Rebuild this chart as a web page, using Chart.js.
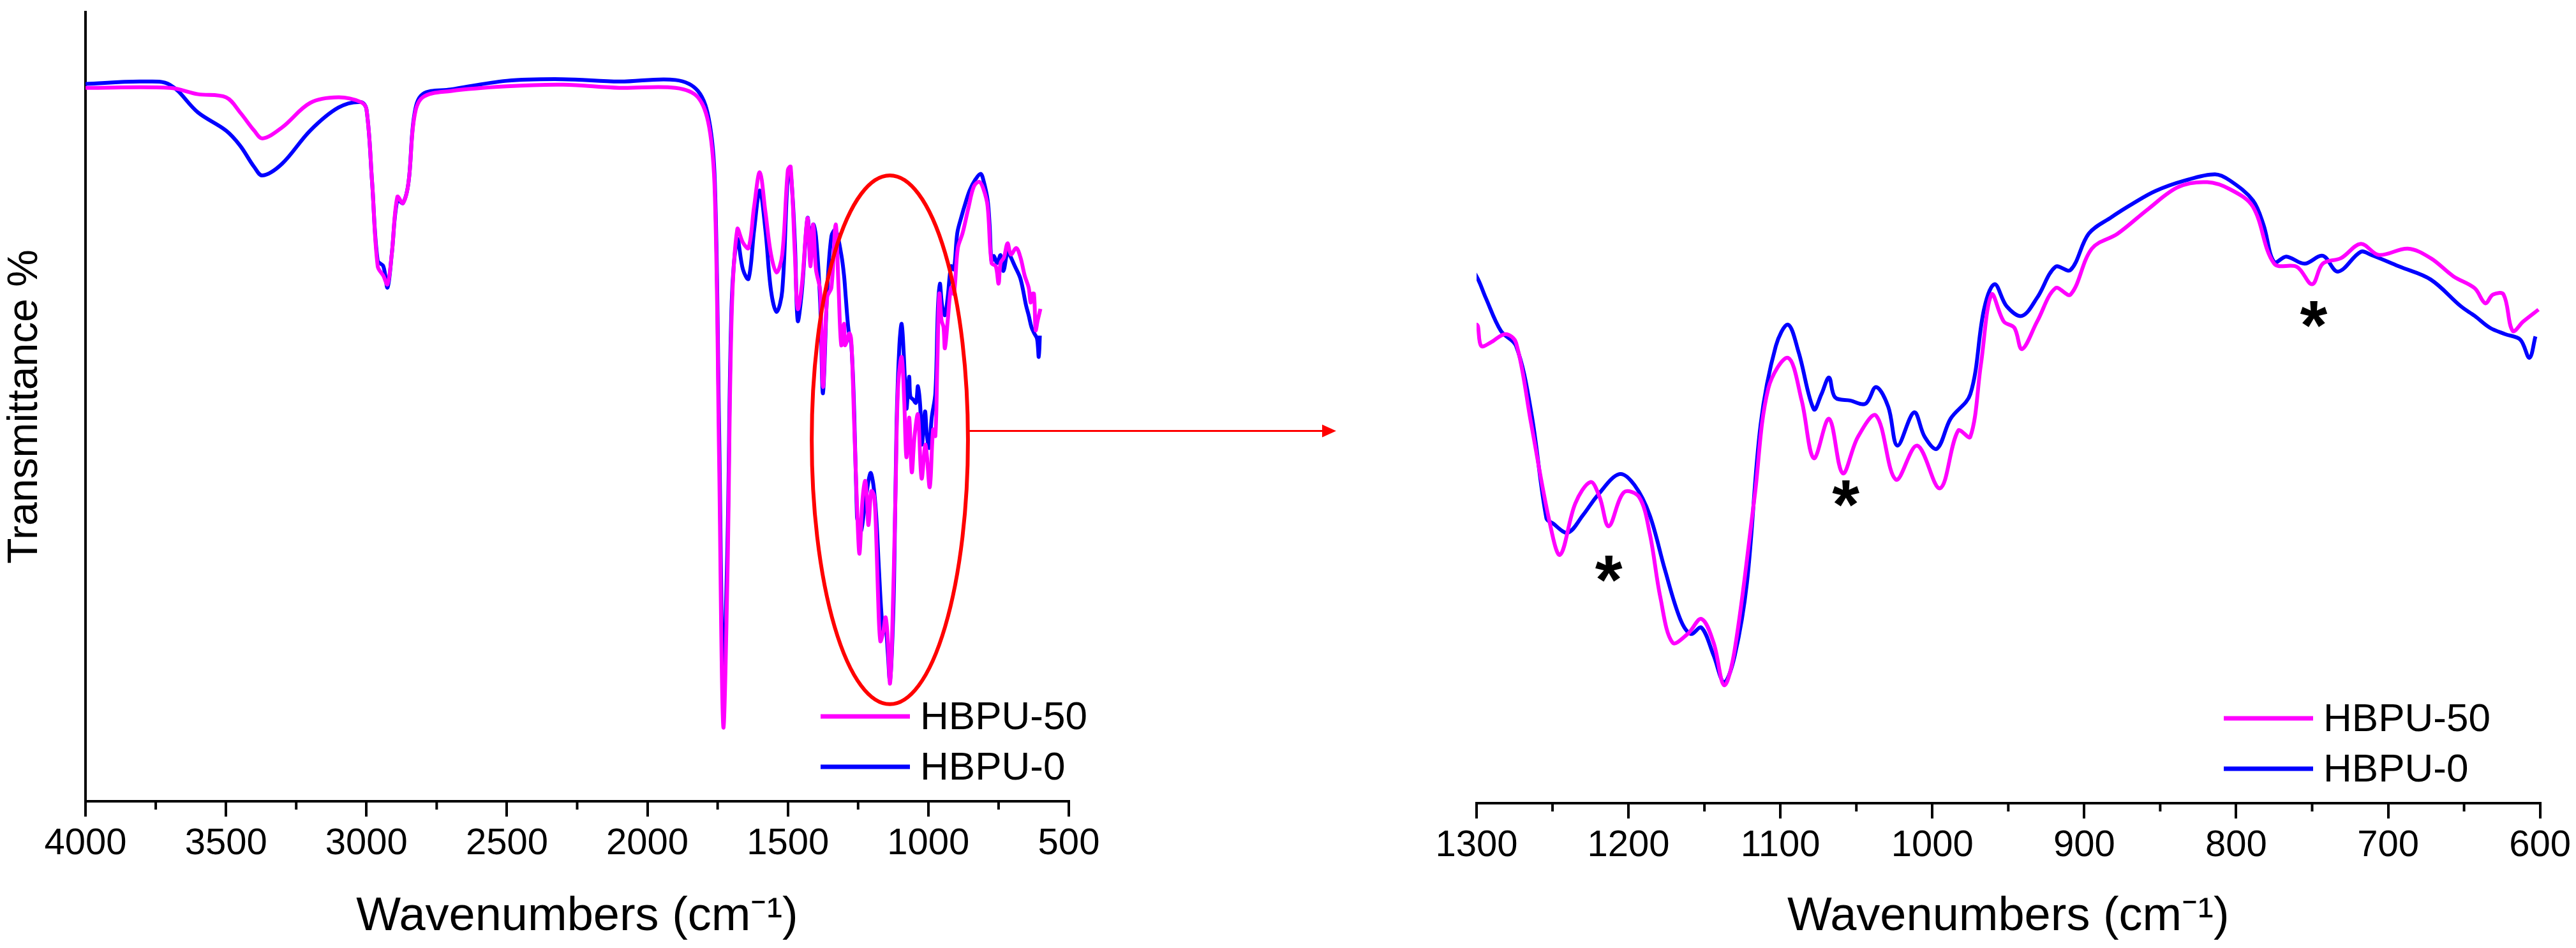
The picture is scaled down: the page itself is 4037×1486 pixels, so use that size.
<!DOCTYPE html>
<html>
<head>
<meta charset="utf-8">
<script src="https://cdn.jsdelivr.net/npm/chart.js@4"></script>
<style>
  body { margin: 0; background: #fff; width: 4037px; height: 1486px; overflow: hidden; }
  canvas { position: absolute; top: 0; }
  #leftChart { left: 0; }
  #rightChart { left: 2200px; }
</style>
</head>
<body>
<canvas id="leftChart" width="2200" height="1486"></canvas>
<canvas id="rightChart" width="1837" height="1486"></canvas>
<script>
// wavenumber (cm-1) and transmittance (arb. %)
const seriesNames = ['HBPU-50', 'HBPU-0'];
const seriesColors = ['#ff00ff', '#0000ff'];

const hbpu0Wn = [4000, 3800, 3700, 3600, 3500, 3450, 3400, 3370, 3300, 3200, 3100, 3020, 3000, 2980, 2960, 2940, 2925, 2910, 2890, 2870, 2850, 2830, 2800, 2700, 2500, 2300, 2100, 1900, 1820, 1780, 1760, 1745, 1730, 1715, 1700, 1680, 1660, 1640, 1620, 1600, 1580, 1560, 1540, 1520, 1500, 1490, 1475, 1465, 1450, 1430, 1420, 1410, 1400, 1385, 1375, 1360, 1345, 1330, 1310,
  1300, 1294, 1284, 1274, 1264, 1254, 1250, 1240, 1230, 1220, 1206, 1196, 1186, 1176, 1166, 1159, 1152, 1144, 1137, 1130, 1122, 1113, 1103, 1095, 1088, 1078, 1073, 1068, 1064, 1054, 1044, 1037, 1029, 1023, 1012, 1005, 997, 988, 975, 966, 959, 951, 941, 931, 919, 909, 897, 882, 868, 853, 834, 814, 804, 789, 782, 775, 767, 755, 743, 733, 718, 711, 692, 672, 652, 643, 633, 623, 613, 607, 603];
const hbpu0T = [90.9, 91.2, 90.8, 87.3, 85.0, 83.1, 80.4, 79.3, 80.8, 85.0, 87.9, 88.6, 87.7, 78.5, 68.5, 67.8, 65.1, 69.3, 76.2, 75.8, 78.5, 86.9, 89.6, 90.2, 91.3, 91.5, 91.2, 91.4, 90.0, 86.2, 78.5, 47.9, 15.7, 32.5, 63.2, 71.2, 67.4, 66.2, 72.4, 77.4, 72.4, 64.7, 62.0, 64.7, 79.3, 79.7, 70.8, 60.9, 64.7, 73.9, 70.8, 73.1, 71.6, 63.2, 51.7, 64.7, 71.6, 72.4, 69.3,
  66.6, 63.9, 59.7, 57.8, 49.4, 36.0, 35.4, 34.2, 36.4, 39.0, 41.6, 40.2, 36.4, 29.5, 23.3, 21.4, 22.2, 18.7, 15.3, 18.7, 27.9, 47.9, 57.8, 60.5, 57.0, 49.8, 51.7, 53.8, 51.3, 50.9, 50.5, 52.6, 50.1, 45.2, 49.4, 46.3, 44.8, 48.6, 51.7, 62.4, 65.6, 62.8, 61.6, 63.9, 67.8, 67.4, 72.0, 74.1, 75.8, 77.4, 78.7, 79.5, 78.7, 76.2, 73.1, 68.4, 69.1, 68.2, 69.2, 67.2, 69.7, 69.3, 67.8, 66.2, 62.8, 61.6, 60.1, 59.3, 58.6, 56.3, 59.0];

const hbpu50Wn = [4000, 3700, 3600, 3500, 3450, 3400, 3370, 3300, 3200, 3100, 3020, 3000, 2980, 2960, 2940, 2925, 2910, 2890, 2870, 2850, 2830, 2800, 2700, 2500, 2300, 2100, 1900, 1820, 1780, 1760, 1745, 1730, 1715, 1700, 1680, 1660, 1640, 1620, 1600, 1580, 1560, 1540, 1520, 1500, 1490, 1475, 1465, 1450, 1430, 1420, 1410, 1400, 1385, 1375, 1360, 1345, 1330, 1320, 1310,
  1300, 1297, 1291, 1281, 1274, 1264, 1252, 1245, 1235, 1225, 1219, 1213, 1203, 1193, 1186, 1179, 1171, 1161, 1152, 1144, 1137, 1130, 1117, 1108, 1095, 1086, 1078, 1068, 1059, 1049, 1037, 1024, 1010, 995, 983, 975, 968, 961, 953, 946, 941, 931, 919, 909, 895, 878, 858, 838, 819, 804, 789, 775, 760, 750, 743, 731, 718, 706, 687, 672, 657, 643, 636, 631, 624, 618, 611, 601];
const hbpu50T = [90.4, 90.4, 89.6, 89.2, 87.3, 85.0, 84.0, 85.4, 88.5, 89.2, 88.6, 87.7, 78.5, 67.8, 66.6, 65.5, 69.3, 76.6, 75.8, 78.5, 86.6, 89.2, 90.0, 90.6, 90.8, 90.4, 90.4, 89.2, 85.4, 77.0, 44.0, 9.5, 28.7, 61.6, 72.5, 70.8, 70.1, 75.4, 79.7, 74.7, 69.3, 67.0, 69.3, 80.0, 80.4, 69.3, 62.4, 65.5, 73.9, 67.8, 73.1, 67.4, 64.7, 52.5, 63.9, 65.1, 73.1, 65.5, 57.8,
  60.5, 57.8, 58.2, 59.3, 58.2, 47.9, 35.6, 31.4, 37.9, 40.6, 38.7, 35.0, 39.3, 38.7, 34.1, 26.0, 20.3, 21.4, 23.3, 20.3, 14.9, 19.5, 38.7, 52.4, 56.3, 50.9, 43.6, 48.6, 41.7, 46.3, 49.0, 40.9, 45.2, 39.8, 47.1, 46.3, 55.5, 64.3, 60.9, 60.1, 57.4, 60.9, 65.1, 64.3, 70.1, 72.0, 75.1, 77.9, 78.5, 77.6, 75.4, 68.2, 67.8, 65.6, 68.2, 68.9, 70.7, 69.3, 70.1, 68.9, 66.6, 65.1, 63.2, 64.3, 64.3, 59.7, 60.9, 62.4];

// asterisk marks in the zoomed panel
const starWn = [1213, 1057, 749];
const starT = [29.5, 39.0, 61.6];

const leftTicks = [4000, 3500, 3000, 2500, 2000, 1500, 1000, 500];
const leftMinor = [3750, 3250, 2750, 2250, 1750, 1250, 750];
const rightTicks = [1300, 1200, 1100, 1000, 900, 800, 700, 600];
const rightMinor = [1250, 1150, 1050, 950, 850, 750, 650];

const FONT = 'Arial, "Liberation Sans"';

function toPoints(xs, ys) {
    return xs.map((x, i) => ({ x: x, y: ys[i] }));
}

function makeDatasets() {
    return [
        { label: seriesNames[0], data: toPoints(hbpu50Wn, hbpu50T), borderColor: seriesColors[0] },
        { label: seriesNames[1], data: toPoints(hbpu0Wn, hbpu0T), borderColor: seriesColors[1] }
    ].map(d => Object.assign(d, { borderWidth: 6, pointRadius: 0, tension: 0.35, fill: false }));
}

// legend drawn at fixed spot inside the plot
function legendPlugin(x0, y0) {
    return {
        id: 'ownLegend',
        afterDraw(chart) {
            const ctx = chart.ctx;
            ctx.save();
            ctx.font = '62px ' + FONT;
            ctx.textBaseline = 'middle';
            chart.data.datasets.forEach((ds, i) => {
                const y = y0 + i * 79;
                ctx.strokeStyle = ds.borderColor;
                ctx.lineWidth = 7;
                ctx.beginPath();
                ctx.moveTo(x0, y);
                ctx.lineTo(x0 + 140, y);
                ctx.stroke();
                ctx.fillStyle = '#000';
                ctx.fillText(ds.label, x0 + 156, y + 3);
            });
            ctx.restore();
        }
    };
}

// short minor ticks between the labelled ones
function minorPlugin(values) {
    return {
        id: 'minorTicks',
        afterDraw(chart) {
            const ctx = chart.ctx, xs = chart.scales.x;
            ctx.save();
            ctx.strokeStyle = '#000';
            ctx.lineWidth = 4;
            values.forEach(v => {
                const px = xs.getPixelForValue(v);
                ctx.beginPath();
                ctx.moveTo(px, xs.top);
                ctx.lineTo(px, xs.top + 13);
                ctx.stroke();
            });
            ctx.restore();
        }
    };
}

function baseOptions(xmin, xmax, ticks, yWidth, xHeight, padRight, padTop) {
    return {
        responsive: false,
        animation: false,
        layout: { padding: { right: padRight, top: padTop, left: 0, bottom: 0 } },
        plugins: { legend: { display: false }, tooltip: { enabled: false } },
        scales: {
            x: {
                type: 'linear', reverse: true, min: xmin, max: xmax,
                afterBuildTicks: s => { s.ticks = ticks.map(v => ({ value: v })); },
                afterFit: s => { s.height = xHeight; },
                border: { color: '#000', width: 4 },
                grid: { drawOnChartArea: false, color: '#000', lineWidth: 4, tickLength: 24 },
                ticks: { color: '#000', font: { size: 58, family: FONT }, padding: 8, maxRotation: 0, autoSkip: false, callback: v => String(v) },
                title: { display: true, text: 'Wavenumbers (cm\u207B\u00B9)', color: '#000', font: { size: 74, family: FONT }, padding: { top: 22 } }
            },
            y: {
                min: 0, max: 100,
                afterFit: s => { s.width = yWidth; },
                ticks: { display: false },
                grid: { display: false }
            }
        }
    };
}

// left: full spectrum with ellipse and arrow
const leftOpts = baseOptions(500, 4000, leftTicks, 134, 230, 525, 19);
leftOpts.scales.y.border = { color: '#000', width: 4 };
leftOpts.scales.y.title = { display: true, text: 'Transmittance %', color: '#000', font: { size: 66, family: FONT }, padding: 0 };

const circlePlugin = {
    id: 'circle',
    afterDraw(chart) {
        const ctx = chart.ctx, xs = chart.scales.x, ys = chart.scales.y;
        const cx = xs.getPixelForValue(1137), cy = ys.getPixelForValue(45.8);
        const rx = cx - xs.getPixelForValue(1415), ry = ys.getPixelForValue(12.3) - cy;
        ctx.save();
        ctx.strokeStyle = '#ff0000';
        ctx.lineWidth = 6;
        ctx.beginPath();
        ctx.ellipse(cx, cy, rx, ry, 0, 0, Math.PI * 2);
        ctx.stroke();
        const ax = cx + rx, ex = 2094;
        ctx.lineWidth = 3;
        ctx.beginPath();
        ctx.moveTo(ax, cy - 14);
        ctx.lineTo(ex - 16, cy - 14);
        ctx.stroke();
        ctx.fillStyle = '#ff0000';
        ctx.beginPath();
        ctx.moveTo(ex, cy - 14);
        ctx.lineTo(ex - 22, cy - 24);
        ctx.lineTo(ex - 22, cy - 4);
        ctx.closePath();
        ctx.fill();
        ctx.restore();
    }
};

new Chart(document.getElementById('leftChart'), {
    type: 'line',
    data: { datasets: makeDatasets() },
    options: leftOpts,
    plugins: [circlePlugin, minorPlugin(leftMinor), legendPlugin(1286, 1123)]
});

// right: zoomed 1300-600 region
const rightOpts = baseOptions(600, 1300, rightTicks, 114, 227, 48, 19);
rightOpts.scales.y.border = { display: false };

const starPlugin = {
    id: 'stars',
    afterDraw(chart) {
        const ctx = chart.ctx, xs = chart.scales.x, ys = chart.scales.y;
        ctx.save();
        ctx.fillStyle = '#000';
        ctx.font = 'bold 110px ' + FONT;
        ctx.textAlign = 'center';
        ctx.textBaseline = 'middle';
        starWn.forEach((w, i) => ctx.fillText('*', xs.getPixelForValue(w), ys.getPixelForValue(starT[i]) + 22));
        ctx.restore();
    }
};

new Chart(document.getElementById('rightChart'), {
    type: 'line',
    data: { datasets: makeDatasets() },
    options: rightOpts,
    plugins: [starPlugin, minorPlugin(rightMinor), legendPlugin(1285, 1126)]
});
</script>
</body>
</html>
